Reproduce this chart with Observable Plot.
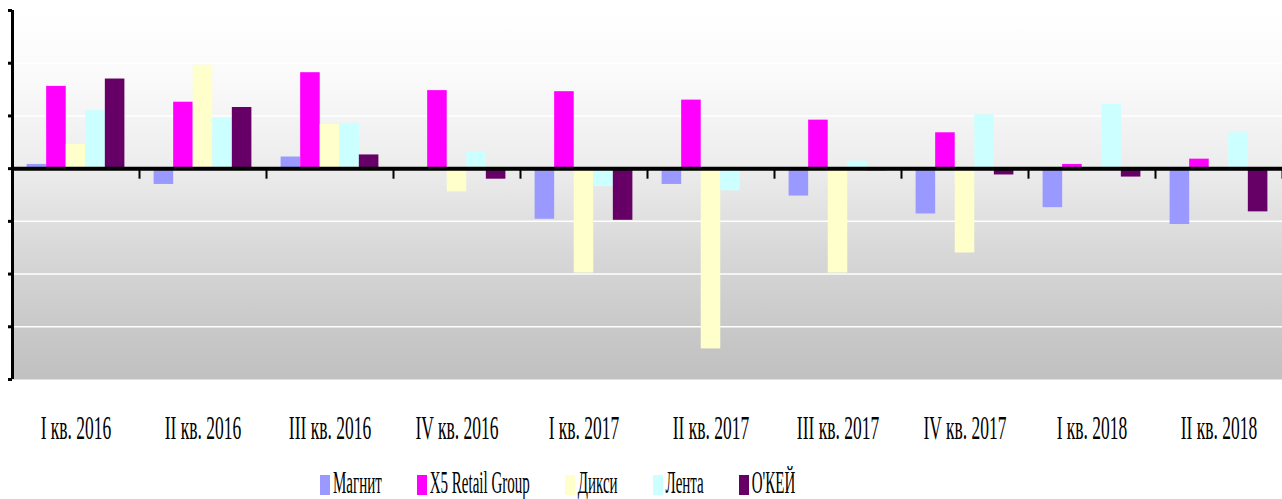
<!DOCTYPE html>
<html>
<head>
<meta charset="utf-8">
<script src="https://cdn.jsdelivr.net/npm/d3@7"></script>
<script src="https://cdn.jsdelivr.net/npm/@observablehq/plot@0.6"></script>
<style>
  html, body { margin: 0; padding: 0; background: #fff; overflow: hidden; }
  #chart svg { display: block; }
  #legend {
    height: 39px; display: flex; align-items: flex-end; gap: 35px; box-sizing: border-box;
    padding-left: 320px; padding-bottom: 2px; font-family: "Liberation Serif", serif; font-size: 15px; color: #000;
  }
  .item { display: flex; align-items: flex-end; }
  .sw { width: 10px; height: 20px; margin-bottom: 2px; margin-right: 3px; }
  .lbl { display: inline-block; line-height: 15px; transform-origin: 0 12.6px; transform: scaleY(2.08); white-space: nowrap; }
</style>
</head>
<body>
<div id="chart"></div>
<div id="legend"></div>
<script>
// ---- data ----
const quarters = ["I кв. 2016", "II кв. 2016", "III кв. 2016", "IV кв. 2016", "I кв. 2017",
                  "II кв. 2017", "III кв. 2017", "IV кв. 2017", "I кв. 2018", "II кв. 2018"];
const seriesNames = ["Магнит", "X5 Retail Group", "Дикси", "Лента", "О'КЕЙ"];
const magnit = [0.4, -1.5, 1.1, -0.1, -4.8, -1.5, -2.6, -4.3, -3.7, -5.3];
const x5     = [7.8, 6.3, 9.1, 7.4, 7.3, 6.5, 4.6, 3.4, 0.4, 0.9];
const dixy   = [2.3, 9.8, 4.2, -2.2, -9.9, -17.1, -9.9, -8.0, 0, 0];
const lenta  = [5.5, 4.8, 4.3, 1.6, -1.7, -2.1, 0.7, 5.1, 6.1, 3.4];
const okey   = [8.5, 5.8, 1.3, -1.0, -4.9, 0, -0.2, -0.6, -0.8, -4.1];
const colors = ["#9999ff", "#ff00ff", "#ffffcc", "#ccffff", "#660066"];
const yTicks = [-20, -15, -10, -5, 0, 5, 10, 15];

// ---- table for the library ----
const seriesValues = [magnit, x5, dixy, lenta, okey];
const groupPad = 0.115;
const barW = (1 - 2 * groupPad) / seriesNames.length;
const rows = quarters.flatMap((q, i) =>
  seriesNames.map((s, j) => ({ q, i, s, j, v: seriesValues[j][i] })));
const boundaries = d3.range(0, quarters.length + 1);
const xTickLen = 1;

const plot = Plot.plot({
  width: 1282,
  height: 460,
  marginLeft: 12,
  marginRight: 0,
  marginTop: 10,
  marginBottom: 81,
  style: { background: "transparent", fontFamily: "Liberation Serif, serif" },
  x: { type: "linear", domain: [0, quarters.length], axis: null, label: null },
  y: { domain: [-20, 15], axis: null, label: null },
  color: { type: "ordinal", domain: seriesNames, range: colors },
  marks: [
    Plot.frame({ fill: "url(#bgGrad)", stroke: null }),
    Plot.ruleY(yTicks.filter(t => t !== 0 && t !== -20 && t !== 15), { stroke: "#ffffff", strokeWidth: 1.5 }),
    Plot.rectY(rows, {
      x1: d => d.i + groupPad + d.j * barW,
      x2: d => d.i + groupPad + (d.j + 1) * barW,
      y1: 0,
      y2: "v",
      fill: "s"
    }),
    Plot.ruleY([0], { stroke: "#000", strokeWidth: 4 }),
    Plot.ruleX(boundaries, { y1: 0, y2: -xTickLen, stroke: "#000", strokeWidth: 2 }),
    Plot.ruleX([0], { stroke: "#000", strokeWidth: 3 }),
    Plot.axisY(yTicks, { tickSize: 4, tickFormat: () => "", label: null, stroke: "#000", strokeWidth: 3 }),
    Plot.text(quarters, {
      x: (d, i) => i + 0.5,
      frameAnchor: "bottom",
      dy: 59,
      lineAnchor: "bottom",
      fontSize: 17.5,
      fill: "#000",
      fontFamily: "Liberation Serif, serif"
    })
  ]
});

// gradient background definition
const svg = d3.select(plot);
const defs = svg.insert("defs", ":first-child");
const grad = defs.append("linearGradient").attr("id", "bgGrad")
  .attr("x1", 0).attr("y1", 0).attr("x2", 0).attr("y2", 1);
[[0, "#ffffff"], [0.2, "#f9f9f9"], [0.43, "#ececec"], [0.52, "#e4e4e4"], [0.65, "#d8d8d8"],
 [0.8, "#cdcdcd"], [0.95, "#c3c3c3"], [1, "#c1c1c1"]]
  .forEach(([o, c]) => grad.append("stop").attr("offset", o).attr("stop-color", c));

// condensed look of the serif labels: stretch vertically about the baseline
svg.selectAll('g[aria-label="text"] text').each(function () {
  const t = this.getAttribute("transform") || "";
  this.setAttribute("transform", t + " scale(1,1.93)");
});

document.getElementById("chart").appendChild(plot);

// legend
const legend = d3.select("#legend");
seriesNames.forEach((s, j) => {
  const it = legend.append("div").attr("class", "item");
  it.append("div").attr("class", "sw").style("background", colors[j]);
  it.append("span").attr("class", "lbl").text(s);
});
</script>
</body>
</html>
